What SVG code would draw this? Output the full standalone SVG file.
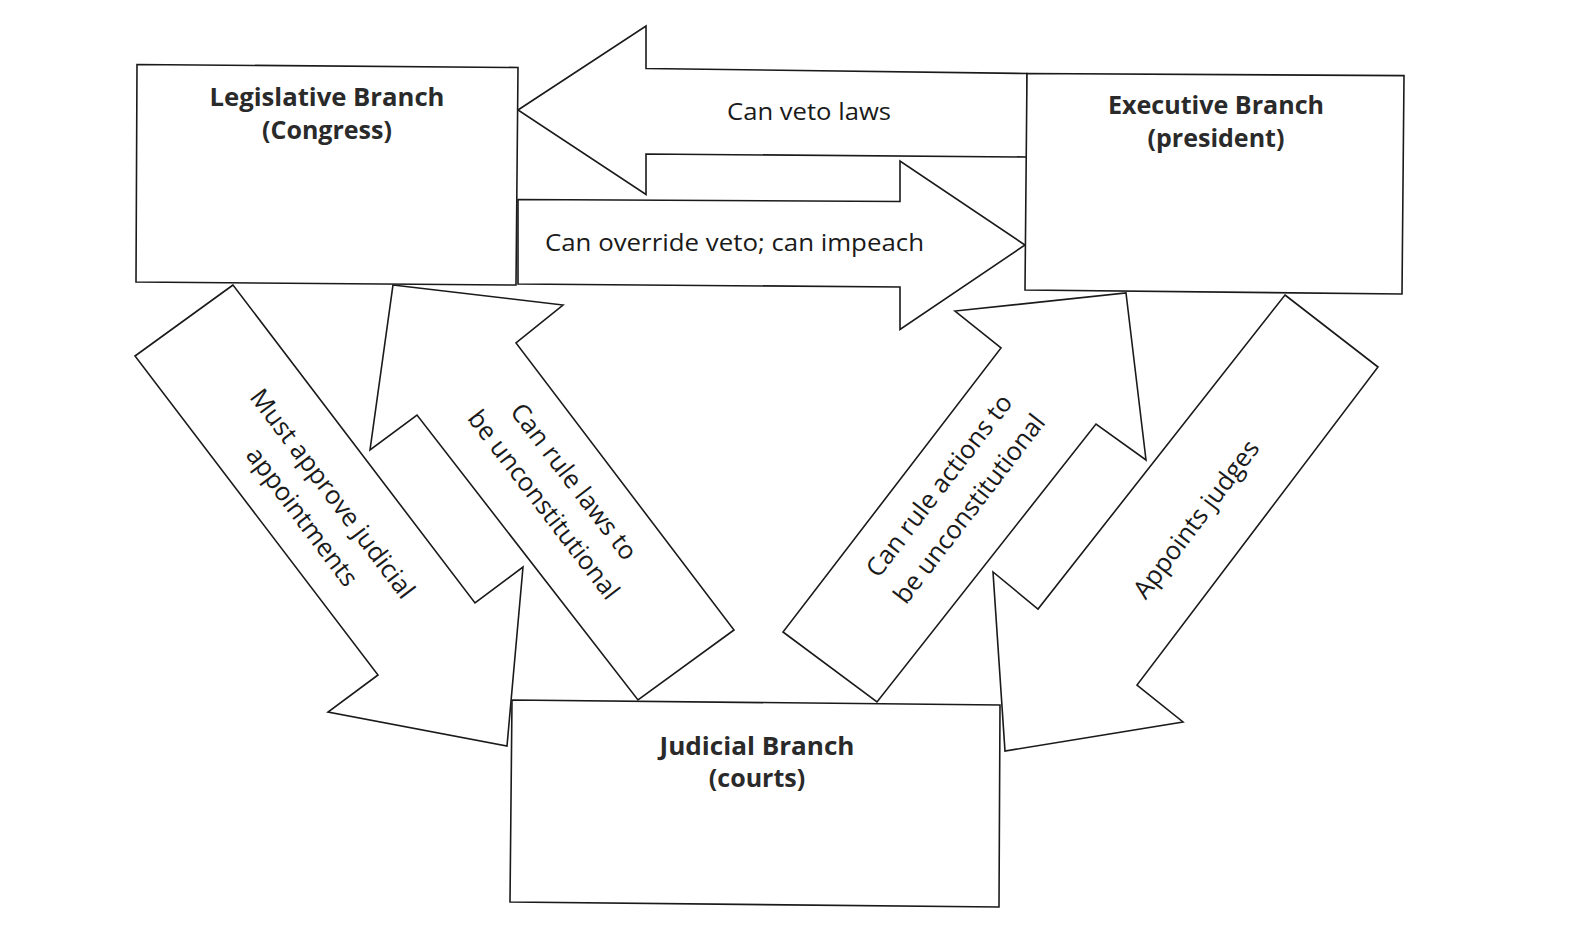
<svg xmlns="http://www.w3.org/2000/svg" width="1580" height="937" viewBox="0 0 1580 937">
<style>
.shape{fill:#fff;stroke:#1a1a1a;stroke-width:1.6;stroke-linejoin:miter}
.t{font-family:"Open Sans","Noto Sans","Liberation Sans",sans-serif;font-size:24px;fill:#1a1a1a;text-anchor:middle}
.r{font-size:25.5px}
.b{font-weight:bold;fill:#2a2a2a;font-size:25px}
</style>
<rect width="1580" height="937" fill="#fff"/>
<g id="connectors">
<g id="arrow-veto">
<polygon class="shape" points="518,110 646,26 646,68.5 1027,73.5 1027,157 646,154 646,194.5"/>
<text class="t" x="809" y="120" textLength="164" lengthAdjust="spacingAndGlyphs">Can veto laws</text>
</g>
<g id="arrow-override">
<polygon class="shape" points="518,199.5 900,201.5 900,161 1025,245 900,329.5 900,287 518,284"/>
<text class="t" x="734.5" y="251" textLength="379" lengthAdjust="spacingAndGlyphs">Can override veto; can impeach</text>
</g>
<g id="arrow-approve">
<polygon class="shape" points="233,285 135,356 378,675 328,712 507,746 523,567 475,603"/>
<g transform="translate(317.5,505) rotate(53)">
<text class="t r" x="0" y="-10">Must approve judicial</text>
<text class="t r" x="0" y="28">appointments</text>
</g>
</g>
<g id="arrow-rulelaws">
<polygon class="shape" points="393,285 563,305 516,343 734,630 638,700 417,415 370,450"/>
<g transform="translate(559,493) rotate(52.5)">
<text class="t r" x="0" y="-10">Can rule laws to</text>
<text class="t r" x="0" y="28">be unconstitutional</text>
</g>
</g>
<g id="arrow-ruleactions">
<polygon class="shape" points="1126,293 1146,460 1096,424 877,702 783,632 1001,348 955,311"/>
<g transform="translate(954,497) rotate(-52.5)">
<text class="t r" x="0" y="-10">Can rule actions to</text>
<text class="t r" x="0" y="28">be unconstitutional</text>
</g>
</g>
<g id="arrow-appoints">
<polygon class="shape" points="1285,295 1378,367 1137,685 1183,722 1005,751 993,572 1038,609"/>
<g transform="translate(1196,519) rotate(-53)">
<text class="t r" x="0" y="9">Appoints judges</text>
</g>
</g>
</g>
<g id="legislative">
<polygon class="shape" points="137,64.5 518,67.5 516,285 136,282"/>
<text class="t b" x="327" y="106" textLength="235" lengthAdjust="spacingAndGlyphs">Legislative Branch</text>
<text class="t b" x="327" y="139">(Congress)</text>
</g>
<g id="executive">
<polygon class="shape" points="1027,73.5 1404,75.6 1402,294 1025,290"/>
<text class="t b" x="1216" y="114" textLength="216" lengthAdjust="spacingAndGlyphs">Executive Branch</text>
<text class="t b" x="1216" y="147">(president)</text>
</g>
<g id="judicial">
<polygon class="shape" points="512,700 1000,705 999,907 510,902"/>
<text class="t b" x="757" y="755" textLength="195" lengthAdjust="spacingAndGlyphs">Judicial Branch</text>
<text class="t b" x="757" y="787">(courts)</text>
</g>
</svg>
